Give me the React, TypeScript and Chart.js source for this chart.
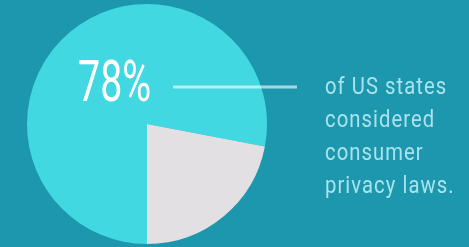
import React, { useEffect, useRef } from "react";
import { Chart, registerables } from "chart.js";

Chart.register(...registerables);

const categories = ["Considered consumer privacy laws", "Did not"];
const values = [78, 22];
const sliceColors = ["#41d8e1", "#e2e0e3"];
const bigLabel = "78%";
const descLines = ["of US states", "considered", "consumer", "privacy laws."];

const BG = "#1c97ad";

const annotationPlugin = {
  id: "annotations",
  afterDraw(chart: any) {
    const ctx = chart.ctx as CanvasRenderingContext2D;
    const meta = chart.getDatasetMeta(0);
    const arc = meta.data[0] as any;
    const cx = arc.x;
    const cy = arc.y;
    const r = arc.outerRadius;

    ctx.save();
    // connector line
    ctx.strokeStyle = "rgba(255,255,255,0.62)";
    ctx.lineWidth = 3;
    ctx.beginPath();
    ctx.moveTo(cx + 26, cy - 37);
    ctx.lineTo(cx + r + 30, cy - 37);
    ctx.stroke();

    // big percentage
    ctx.fillStyle = "#ffffff";
    ctx.textAlign = "left";
    ctx.textBaseline = "alphabetic";
    ctx.font = "400 58px Roboto";
    ctx.save();
    ctx.translate(cx - 69, cy - 23);
    ctx.scale(0.68, 1);
    ctx.fillText(bigLabel, 0, 0);
    ctx.restore();

    // description
    ctx.fillStyle = "#a9e4ec";
    ctx.font = "400 23px Roboto";
    (ctx as any).letterSpacing = "1.2px";
    descLines.forEach((line, i) => {
      ctx.save();
      ctx.translate(cx + r + 58, cy - 30 + i * 33);
      ctx.scale(0.88, 1);
      ctx.fillText(line, 0, 0);
      ctx.restore();
    });
    ctx.restore();
  },
};

export default function App() {
  const ref = useRef<HTMLCanvasElement>(null);

  useEffect(() => {
    document.body.style.margin = "0";
    document.body.style.background = BG;
    const chart = new Chart(ref.current!, {
      type: "pie",
      data: {
        labels: categories,
        datasets: [
          {
            data: values,
            backgroundColor: sliceColors,
            borderWidth: 0,
          },
        ],
      },
      options: {
        responsive: false,
        animation: false,
        rotation: 180,
        layout: { padding: { left: 27, right: 202, top: 4, bottom: 3 } },
        plugins: {
          legend: { display: false },
          tooltip: { enabled: false },
        },
      },
      plugins: [annotationPlugin],
    });
    return () => chart.destroy();
  }, []);

  return (
    <div
      style={{
        position: "fixed",
        left: 0,
        top: 0,
        width: 469,
        height: 247,
        background: BG,
      }}
    >
      <canvas ref={ref} width={469} height={247} style={{ display: "block" }} />
    </div>
  );
}
